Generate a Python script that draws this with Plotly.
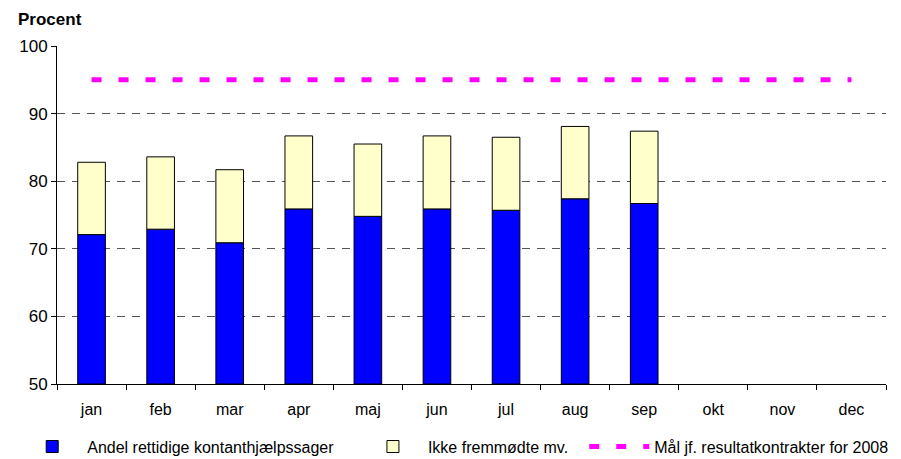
import plotly.graph_objects as go

months = ["jan", "feb", "mar", "apr", "maj", "jun", "jul", "aug", "sep", "okt", "nov", "dec"]
rettidige = [72.1, 72.9, 70.9, 75.9, 74.8, 75.9, 75.7, 77.4, 76.7, None, None, None]
ikke_fremmoedte = [10.7, 10.7, 10.8, 10.8, 10.7, 10.8, 10.8, 10.7, 10.7, None, None, None]
maal = [95] * 12

base = 50
fig = go.Figure()
fig.add_trace(go.Bar(
    x=months, y=[None if v is None else v - base for v in rettidige], base=base,
    name="Andel rettidige kontanthjælpssager", legend="legend",
    marker=dict(color="#0000FF", line=dict(color="black", width=1)),
))
fig.add_trace(go.Bar(
    x=months, y=ikke_fremmoedte,
    base=[None if v is None else v for v in rettidige],
    name="Ikke fremmødte mv.", legend="legend2",
    marker=dict(color="#FFFFCC", line=dict(color="black", width=1)),
))
fig.add_trace(go.Scatter(
    x=months, y=maal, mode="lines",
    name="Mål jf. resultatkontrakter for 2008", legend="legend3",
    line=dict(color="#FF00FF", width=5, dash="10px,17px"),
))

leg = dict(orientation="h", xanchor="left", y=-0.135, yanchor="top",
           font=dict(size=16), itemwidth=60, bgcolor="rgba(0,0,0,0)")
fig.update_layout(
    width=901, height=459,
    barmode="overlay", bargap=0.6,
    plot_bgcolor="white", paper_bgcolor="white",
    font=dict(family="Liberation Sans, Arial", size=16, color="black"),
    margin=dict(l=57, r=15, t=46, b=75, autoexpand=False),
    showlegend=True,
    legend=dict(leg, x=-0.048),
    legend2=dict(leg, x=0.363),
    legend3=dict(leg, x=0.636),
    annotations=[dict(text="<b>Procent</b>", xref="paper", yref="paper", x=-0.05, y=1.045,
                      xanchor="left", yanchor="bottom", showarrow=False, font=dict(size=17))],
)
fig.update_yaxes(range=[50, 100], dtick=10, showline=True, linecolor="black", linewidth=1,
                 ticks="outside", ticklen=5, tickcolor="black",
                 showgrid=True, gridcolor="#555555", griddash="8px,7px", gridwidth=1,
                 zeroline=False, tickfont=dict(size=17))
fig.update_xaxes(showline=True, linecolor="black", linewidth=1, ticks="outside", ticklen=5,
                 tickson="boundaries", tickcolor="black", showgrid=False,
                 range=[-0.5, 11.5], tickfont=dict(size=16), ticklabelstandoff=11)

fig.write_html("out.html", config={"displayModeBar": False},
               post_script="document.body.style.margin='0';")
